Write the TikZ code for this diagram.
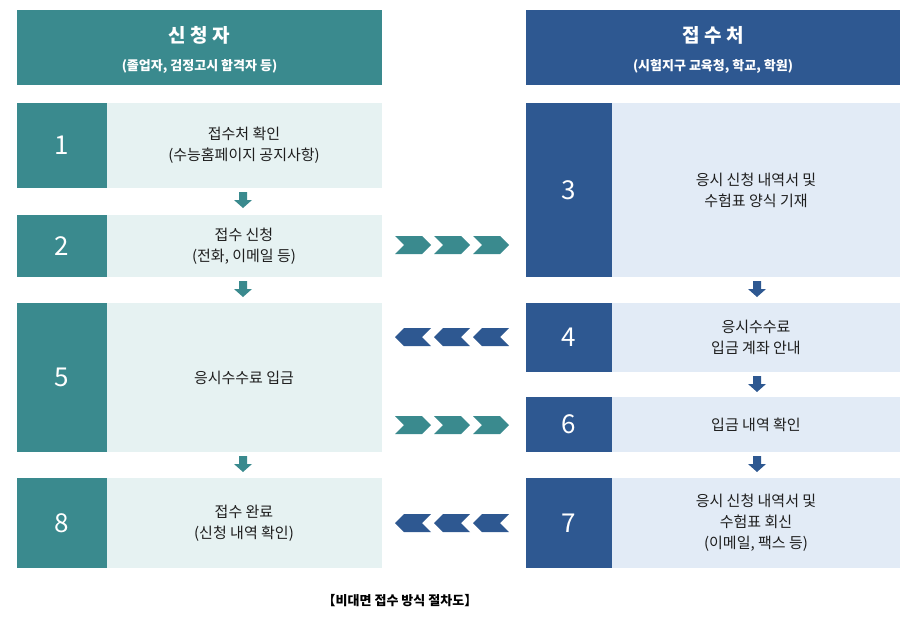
\documentclass[tikz,border=0pt]{standalone}
\usepackage{fontspec}
\setmainfont{Noto Sans CJK KR}
\begin{document}
\begin{tikzpicture}[x=1pt,y=-1pt,
  tealc/.style={fill={rgb,255:red,58;green,138;blue,142}},
  bluec/.style={fill={rgb,255:red,46;green,88;blue,145}},
  lt/.style={fill={rgb,255:red,230;green,242;blue,242}},
  lb/.style={fill={rgb,255:red,226;green,235;blue,246}},
  txt/.style={align=center,font=\fontsize{15}{21}\selectfont,text={rgb,255:red,30;green,30;blue,30}},
  num/.style={font=\fontsize{26}{26}\selectfont,text=white},
  ht/.style={align=center,text=white}]
\useasboundingbox (0,0) rectangle (918,627);
% headers
\fill[tealc] (17,10) rectangle (382,85);
\node[ht,font=\bfseries\fontsize{19}{20}\selectfont] (hl) at (199.5,35) {신 청 자};
\node[ht,font=\bfseries\fontsize{13}{14}\selectfont] (hl2) at (199.5,66) {(졸업자, 검정고시 합격자 등)};
\fill[bluec] (526,10) rectangle (900,85);
\node[ht,font=\bfseries\fontsize{19}{20}\selectfont] (hr) at (713,35) {접 수 처};
\node[ht,font=\bfseries\fontsize{13}{14}\selectfont] (hr2) at (713,66) {(시험지구 교육청, 학교, 학원)};
% left rows
\def\lrow#1#2#3#4{\fill[tealc] (17,#1) rectangle (107,#2); \fill[lt] (107,#1) rectangle (382,#2);
 \node[num] (n#3) at (62,{(#1+#2)/2}) {#3}; \node[txt] (t#3) at (244,{(#1+#2)/2}) {#4};}
\def\rrow#1#2#3#4{\fill[bluec] (526,#1) rectangle (612,#2); \fill[lb] (612,#1) rectangle (900,#2);
 \node[num] (n#3) at (569,{(#1+#2)/2}) {#3}; \node[txt] (t#3) at (756,{(#1+#2)/2}) {#4};}
\lrow{103}{188}{1}{접수처 확인\\(수능홈페이지 공지사항)}
\lrow{215}{277}{2}{접수 신청\\(전화, 이메일 등)}
\lrow{303}{452}{5}{응시수수료 입금}
\lrow{478}{568}{8}{접수 완료\\(신청 내역 확인)}
\rrow{103}{277}{3}{응시 신청 내역서 및\\수험표 양식 기재}
\rrow{303}{372}{4}{응시수수료\\입금 계좌 안내}
\rrow{397}{452}{6}{입금 내역 확인}
\rrow{478}{568}{7}{응시 신청 내역서 및\\수험표 회신\\(이메일, 팩스 등)}
% down arrows
\def\darr#1#2#3{\fill[#3] (#1-4,#2-8) -- (#1+4,#2-8) -- (#1+4,#2) -- (#1+9,#2) -- (#1,#2+8) -- (#1-9,#2) -- (#1-4,#2) -- cycle;}
\darr{243}{200}{tealc}
\darr{243}{289}{tealc}
\darr{243}{464}{tealc}
\darr{757}{289}{bluec}
\darr{757}{384}{bluec}
\darr{757}{464}{bluec}
% chevrons
\def\chr#1#2{\fill[tealc] (#1,#2-9) -- (#1+27,#2-9) -- (#1+36,#2) -- (#1+27,#2+9) -- (#1,#2+9) -- (#1+9,#2) -- cycle;}
\def\chl#1#2{\fill[bluec] (#1+36,#2-9) -- (#1+9,#2-9) -- (#1,#2) -- (#1+9,#2+9) -- (#1+36,#2+9) -- (#1+27,#2) -- cycle;}
\foreach \x in {395,434,473}{\chr{\x}{245}\chr{\x}{425}\chl{\x}{337}\chl{\x}{523}}
\node[font=\bfseries\fontsize{13}{14}\selectfont] (cap) at (400,601) {【비대면 접수 방식 절차도】};
\end{tikzpicture}
\end{document}
